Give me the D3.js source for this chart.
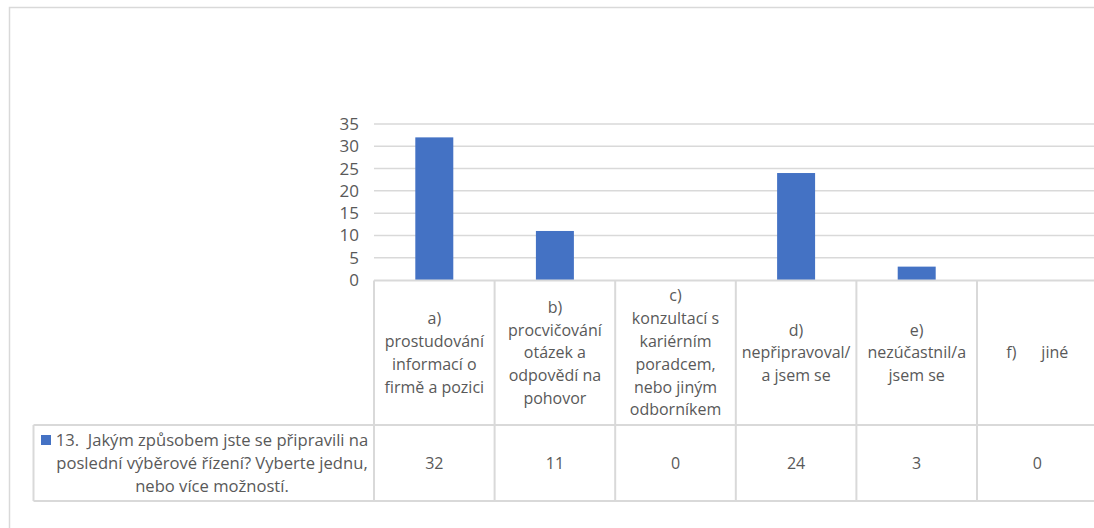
<!DOCTYPE html>
<html><head><meta charset="utf-8">
<script src="https://cdn.jsdelivr.net/npm/d3@7"></script>
<style>
html,body{margin:0;padding:0;background:#fff;}
svg{display:block;font-family:"Open Sans","Noto Sans",sans-serif;}
</style></head>
<body>
<svg id="chart" width="1094" height="528"></svg>
<script>
const categories = [
  "a)\nprostudování\ninformací o\nfirmě a pozici",
  "b)\nprocvičování\notázek a\nodpovědí na\npohovor",
  "c)\nkonzultací s\nkariérním\nporadcem,\nnebo jiným\nodborníkem",
  "d)\nnepřipravoval/\na jsem se",
  "e)\nnezúčastnil/a\njsem se",
  "f)      jiné"
];
const values = [32, 11, 0, 24, 3, 0];
const seriesName = ["13.  Jakým způsobem jste se připravili na", "poslední výběrové řízení? Vyberte jednu,", "nebo více možností."];
const yTicks = [0, 5, 10, 15, 20, 25, 30, 35];

const svg = d3.select("#chart");
const textColor = "#595959", lineColor = "#d9d9d9", barColor = "#4472c4";

// outer chart border
svg.append("rect").attr("x", 9.5).attr("y", 7.5).attr("width", 1200).attr("height", 600)
  .attr("fill", "none").attr("stroke", lineColor).attr("stroke-width", 1.5);

const left = 374, colW = 120.6, right = left + colW * categories.length;
const x = d3.scaleBand().domain(d3.range(categories.length)).range([left, right]).padding(0);
const y = d3.scaleLinear().domain([0, 35]).range([280, 124]);

// gridlines
svg.append("g").selectAll("line").data(yTicks.slice(1)).join("line")
  .attr("x1", left).attr("x2", right).attr("y1", d => y(d)).attr("y2", d => y(d))
  .attr("stroke", lineColor).attr("stroke-width", 1.5);

// y axis labels
const yAxis = d3.axisLeft(y).tickValues(yTicks).tickSize(0).tickPadding(0);
const gy = svg.append("g").attr("transform", `translate(${359},0)`).call(yAxis);
gy.select(".domain").remove();
gy.selectAll("text").attr("fill", textColor).style("font-size", "17px")
  .style("font-family", '"Open Sans","Noto Sans",sans-serif');

// bars
const barW = colW * 0.315;
svg.append("g").selectAll("rect").data(values).join("rect")
  .attr("x", (d, i) => x(i) + x.bandwidth() / 2 - barW / 2)
  .attr("width", barW)
  .attr("y", d => y(d)).attr("height", d => y(0) - y(d))
  .attr("fill", barColor);

// data table
const tTop = 280.5, hBot = 425, tBot = 501, legL = 33.5;
const tl = svg.append("g").attr("stroke", lineColor).attr("stroke-width", 2);
tl.append("line").attr("x1", left).attr("x2", right).attr("y1", tTop).attr("y2", tTop);
tl.append("line").attr("x1", legL).attr("x2", right).attr("y1", hBot).attr("y2", hBot);
tl.append("line").attr("x1", legL).attr("x2", right).attr("y1", tBot).attr("y2", tBot);
tl.append("line").attr("x1", legL).attr("x2", legL).attr("y1", hBot).attr("y2", tBot);
tl.selectAll(".v").data(d3.range(categories.length + 1)).join("line").attr("class", "v")
  .attr("x1", i => left + i * colW).attr("x2", i => left + i * colW)
  .attr("y1", tTop).attr("y2", tBot);

// category labels
const lh = 22.8;
const cat = svg.append("g").attr("fill", textColor).style("font-size", "16px").attr("text-anchor", "middle");
categories.forEach((c, i) => {
  const lines = c.split("\n");
  const cx = x(i) + x.bandwidth() / 2;
  const cy = (tTop + hBot) / 2;
  const t = cat.append("text").attr("x", cx).attr("y", cy - (lines.length - 1) * lh / 2)
    .style("white-space", "pre");
  lines.forEach((l, k) => t.append("tspan").attr("x", cx).attr("dy", k === 0 ? "0.35em" : lh).text(l));
});

// values row
svg.append("g").attr("fill", textColor).style("font-size", "16px").attr("text-anchor", "middle")
  .selectAll("text").data(values).join("text")
  .attr("x", (d, i) => x(i) + x.bandwidth() / 2).attr("y", (hBot + tBot) / 2).attr("dy", "0.35em")
  .text(d => d);

// legend cell
svg.append("rect").attr("x", 41).attr("y", 435).attr("width", 10).attr("height", 10).attr("fill", barColor);
const lg = svg.append("text").attr("fill", textColor).style("font-size", "16.6px")
  .attr("text-anchor", "middle").style("white-space", "pre");
seriesName.forEach((l, k) => lg.append("tspan").attr("x", 212).attr("y", 446 + k * 23).text(l));
</script>
</body></html>
